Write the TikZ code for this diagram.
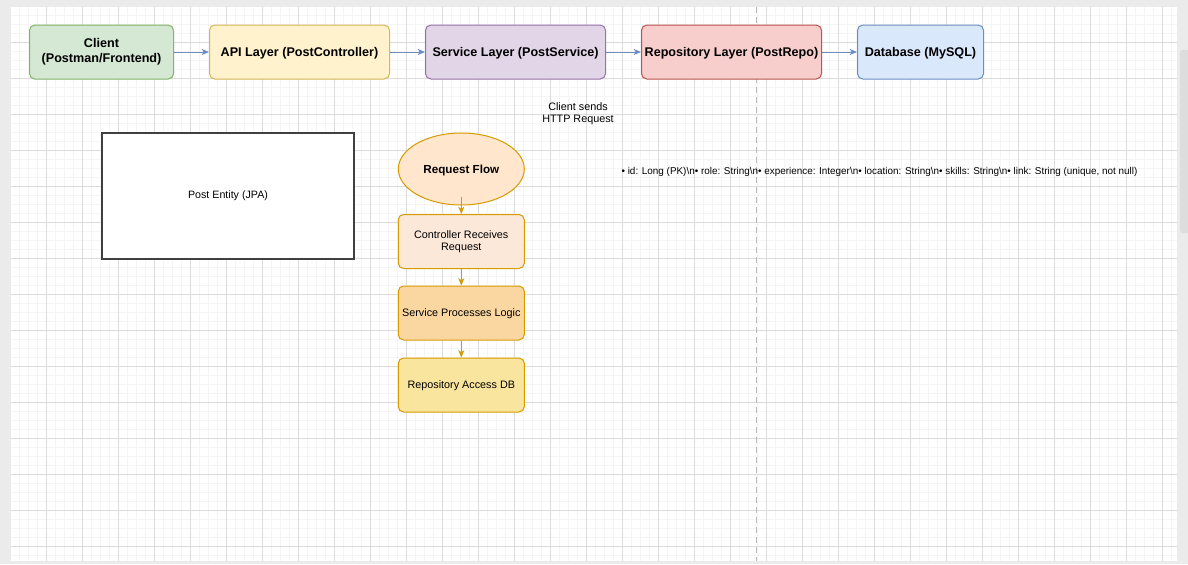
\documentclass[tikz,border=0pt]{standalone}
\usepackage{fontspec}
\setmainfont{Liberation Sans}
\usetikzlibrary{arrows.meta,shapes.geometric}
\definecolor{bggray}{HTML}{EBEBEB}
\definecolor{minorgrid}{HTML}{F5F5F5}
\definecolor{majorgrid}{HTML}{DCDCDC}
\definecolor{greenF}{HTML}{D5E8D4}\definecolor{greenS}{HTML}{82B366}
\definecolor{yellowF}{HTML}{FFF2CC}\definecolor{yellowS}{HTML}{D6B656}
\definecolor{purpleF}{HTML}{E1D5E7}\definecolor{purpleS}{HTML}{9673A6}
\definecolor{redF}{HTML}{F8CECC}\definecolor{redS}{HTML}{B85450}
\definecolor{blueF}{HTML}{DAE8FC}\definecolor{blueS}{HTML}{6C8EBF}
\definecolor{orangeS}{HTML}{D79B00}
\definecolor{ellF}{HTML}{FFE6CC}
\definecolor{ctrlF}{HTML}{FCE8D9}
\definecolor{servF}{HTML}{FAD7A1}
\definecolor{repoF}{HTML}{F9E59D}
\definecolor{scrollthumb}{HTML}{DDDDDD}
\tikzset{
  x=0.75pt, y=-0.75pt,
  layerbox/.style={draw, rounded corners=4pt, line width=0.75pt, minimum height=40.5pt,
    inner sep=0pt, align=center, font=\fontsize{9.45pt}{11.25pt}\selectfont\bfseries},
  flowbox/.style={draw=orangeS, rounded corners=4pt, line width=0.75pt, minimum width=94.5pt,
    minimum height=40.5pt, inner sep=0pt, align=center, font=\fontsize{8.1pt}{9pt}\selectfont},
  bluearrow/.style={draw=blueS, line width=0.75pt, -{Stealth[length=5.5pt,width=4.5pt,inset=1.5pt]}},
  orangearrow/.style={draw=orangeS, line width=0.75pt, -{Stealth[length=5.5pt,width=4.5pt,inset=1.5pt]}},
  plaintext/.style={inner sep=0pt, align=center, font=\fontsize{8.1pt}{9pt}\selectfont}
}
\begin{document}
\begin{tikzpicture}
\useasboundingbox (0,0) rectangle (1188,564);
\fill[bggray] (0,0) rectangle (1188,564);
\fill[white] (11,7) rectangle (1177,561);
% grid
\begin{scope}
\clip (11,7) rectangle (1177,561);
\foreach \i in {0,...,130} {\draw[minorgrid, line width=0.75pt] (10.7+9*\i,7) -- (10.7+9*\i,561);}
\foreach \j in {0,...,62} {\draw[minorgrid, line width=0.75pt] (11,6.3+9*\j) -- (1177,6.3+9*\j);}
\foreach \i in {0,...,33} {\draw[majorgrid, line width=0.75pt] (10.7+36*\i,7) -- (10.7+36*\i,561);}
\foreach \j in {0,...,16} {\draw[majorgrid, line width=0.75pt] (11,6.3+36*\j) -- (1177,6.3+36*\j);}
\end{scope}
% page break line
\draw[gray!55, line width=0.75pt, dash pattern=on 4.5pt off 3pt] (756,7) -- (756,561);
% scrollbar thumb
\fill[scrollthumb, rounded corners=2pt] (1180,50) rectangle (1190,233);

% top row
\node[layerbox, fill=greenF, draw=greenS, minimum width=108pt] (client) at (101.5,52) {\raisebox{-1pt}{\begin{tabular}{@{}c@{}}Client\\[-0.5pt](Postman/Frontend)\end{tabular}}};
\node[layerbox, fill=yellowF, draw=yellowS, minimum width=135pt, text depth=0pt] (api) at (299.5,52) {API Layer (PostController)};
\node[layerbox, fill=purpleF, draw=purpleS, minimum width=135pt, text depth=0pt] (service) at (515.5,52) {Service Layer (PostService)};
\node[layerbox, fill=redF, draw=redS, minimum width=135pt, text depth=0pt] (repo) at (731.5,52) {Repository Layer (PostRepo)};
\node[layerbox, fill=blueF, draw=blueS, minimum width=94.5pt, text depth=0pt] (db) at (920.5,52) {Database (MySQL)};
\draw[bluearrow] (client) -- (api);
\draw[bluearrow] (api) -- (service);
\draw[bluearrow] (service) -- (repo);
\draw[bluearrow] (repo) -- (db);

% label
\node[plaintext] (sends) at (578,114) {Client sends\\HTTP Request};

% entity
\node[draw=black!75, line width=1pt, fill=white, minimum width=189pt, minimum height=94.5pt, inner sep=0pt,
  font=\fontsize{8pt}{9pt}\selectfont] (entity) at (228,196) {Post Entity (JPA)};

% fields
\node[inner sep=0pt, font=\fontsize{7.43pt}{9pt}\selectfont] (fields) at (879.5,172)
 {• id: Long (PK)\textbackslash n• role: String\textbackslash n• experience: Integer\textbackslash n• location: String\textbackslash n• skills: String\textbackslash n• link: String (unique, not null)};

% flow
\node[ellipse, draw=orangeS, fill=ellF, line width=0.75pt, minimum width=94.5pt, minimum height=54pt, inner sep=0pt,
  font=\fontsize{8.75pt}{10pt}\selectfont\bfseries, text depth=0pt] (flow) at (461.3,169) {Request Flow};
\node[flowbox, fill=ctrlF] (ctrl) at (461.3,241.5) {Controller Receives\\Request};
\node[flowbox, fill=servF, text depth=0pt] (serv) at (461.3,313) {Service Processes Logic};
\node[flowbox, fill=repoF, text depth=0pt] (racc) at (461.3,385) {Repository Access DB};
\draw[orangearrow] ([yshift=6.75pt]flow.south) -- (ctrl.north);
\draw[orangearrow] (ctrl) -- (serv);
\draw[orangearrow] (serv) -- (racc);
\end{tikzpicture}
\end{document}
